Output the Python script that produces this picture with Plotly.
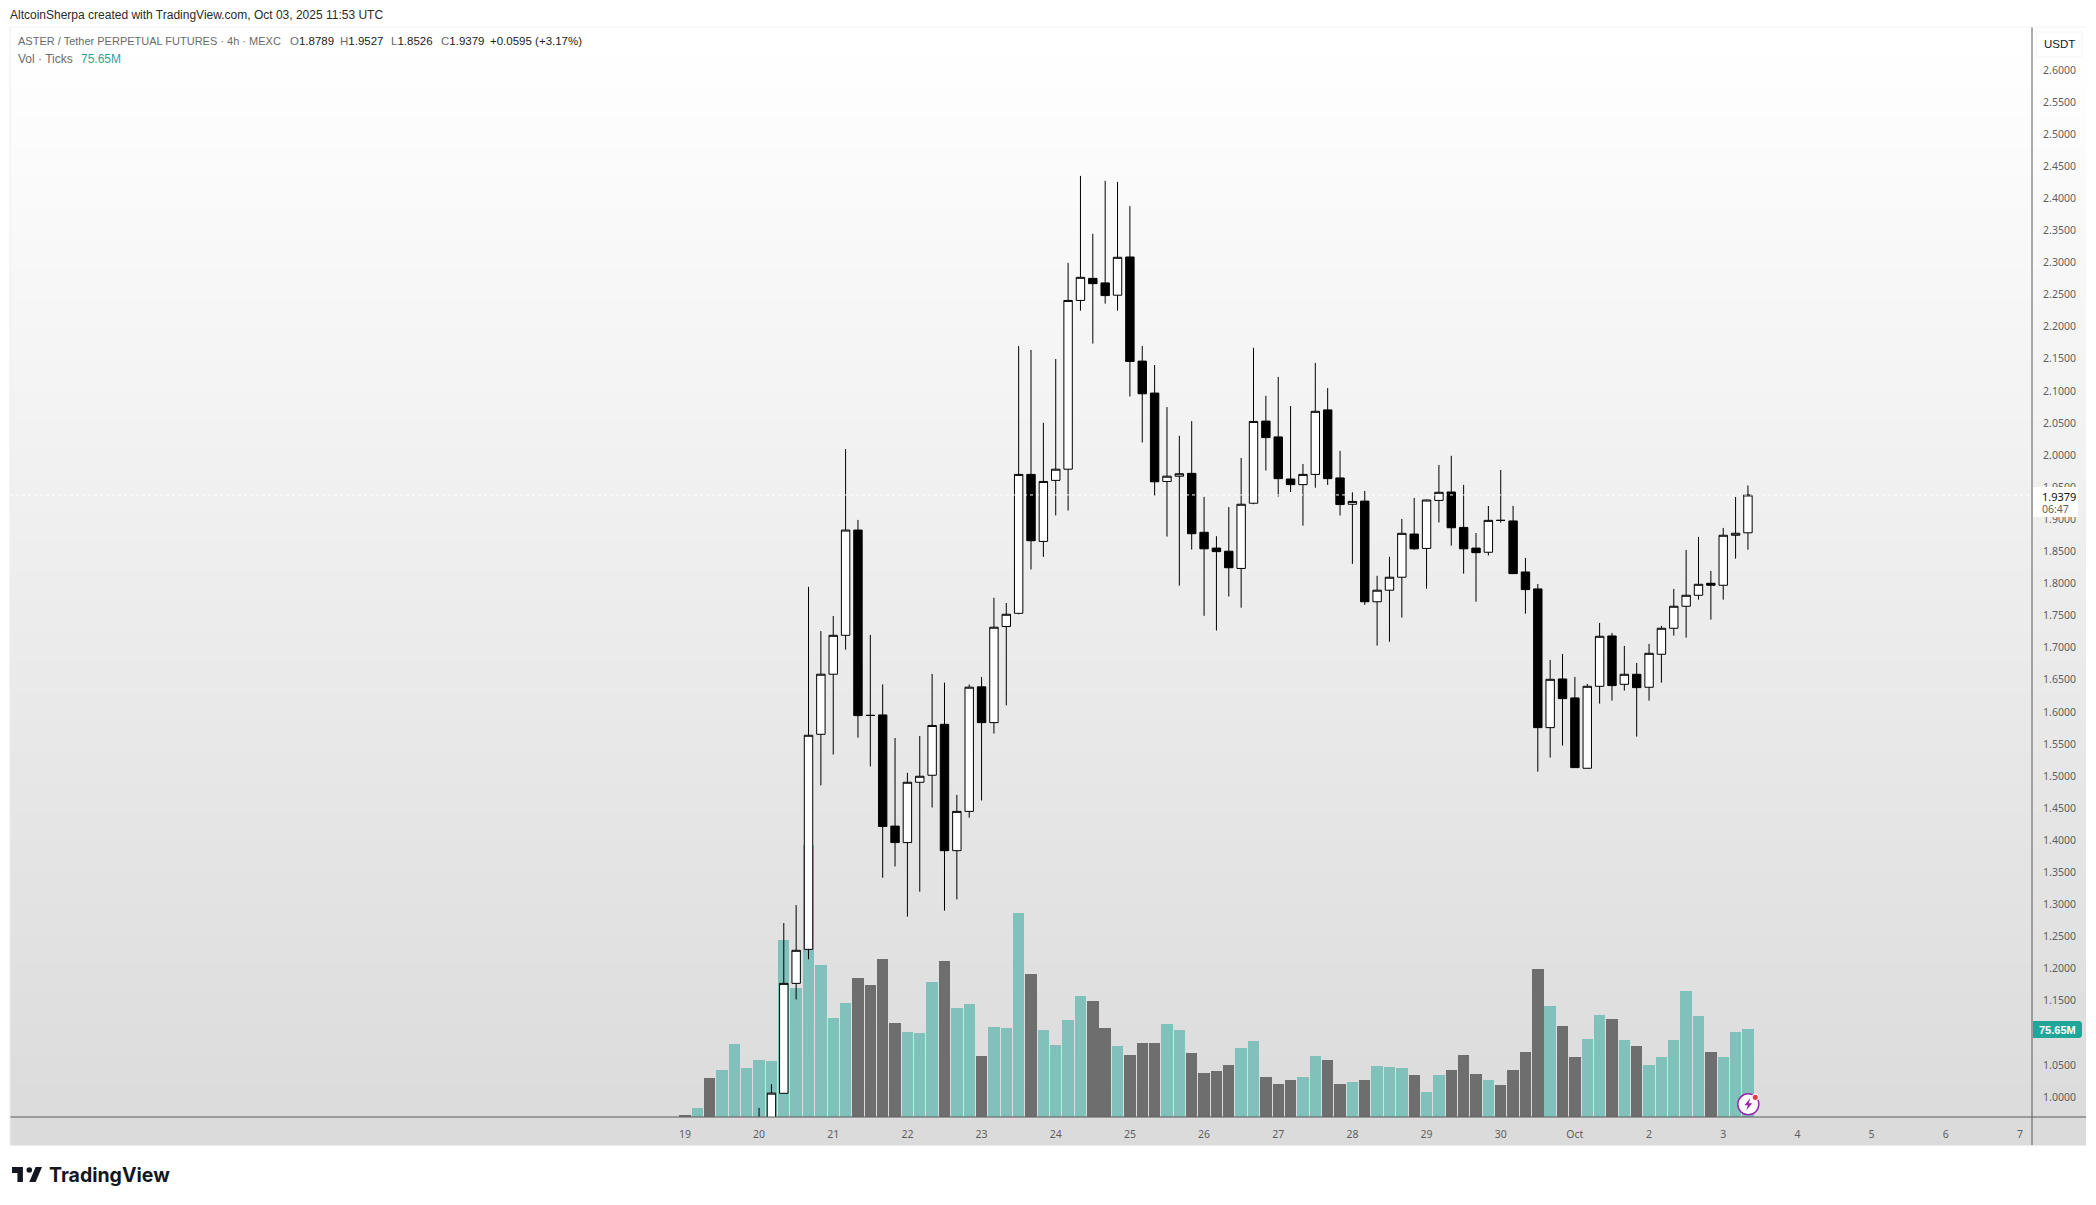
# plot.py
import plotly.graph_objects as go

# ---- data ----
# volume bars, one per 4h bar, first bar sits on the "19" tick (in millions)
volumes = [1.1, 8.0, 33.7, 40.5, 62.8, 42.3, 49.1, 48.2, 151.9, 110.8,
           233.5, 130.5, 85.1, 97.9, 119.3, 113.3, 135.6, 80.8, 73.1, 72.2,
           115.9, 133.9, 93.6, 97.1, 52.5, 77.4, 76.5, 175.3, 122.8, 74.8,
           62.0, 83.4, 103.9, 99.6, 76.5, 61.1, 53.4, 63.7, 63.7, 79.9,
           74.8, 55.1, 38.0, 39.7, 44.8, 59.4, 65.4, 34.5, 28.6, 32.0,
           34.5, 52.5, 49.1, 28.6, 30.3, 32.0, 44.0, 43.1, 42.3, 36.3,
           21.7, 36.3, 40.5, 53.4, 37.1, 32.0, 27.7, 40.5, 56.0, 127.0,
           95.4, 78.2, 51.7, 67.1, 87.6, 84.2, 66.2, 61.1, 44.8, 51.7,
           66.2, 108.2, 86.8, 56.0, 51.7, 73.1, 75.65]
vol_dirs = ["d", "u", "d", "u", "u", "u", "u", "u", "u", "u",
            "u", "u", "u", "u", "d", "d", "d", "d", "u", "u",
            "u", "d", "u", "u", "d", "u", "u", "u", "d", "u",
            "u", "u", "u", "d", "d", "u", "d", "d", "d", "u",
            "u", "d", "d", "d", "d", "u", "u", "d", "d", "d",
            "u", "u", "d", "d", "u", "d", "u", "u", "u", "d",
            "u", "u", "d", "d", "d", "u", "d", "d", "d", "d",
            "u", "d", "d", "u", "u", "d", "u", "d", "u", "u",
            "u", "u", "u", "d", "u", "u", "u"]

# candles start at bar 6, the earlier ones are below the visible price range
first_candle = 6
opens = [0.95, 0.96, 1.0057, 1.177, 1.230, 1.565, 1.6586, 1.7192, 1.8832, 1.5947,
         1.5952, 1.4220, 1.3963, 1.4903, 1.5012, 1.5805, 1.3837, 1.4449, 1.6389, 1.5832,
         1.7329, 1.7535, 1.9699, 1.8655, 1.9606, 1.9780, 2.2409, 2.2753, 2.2682, 2.2491,
         2.3086, 2.1464, 2.0966, 1.9589, 1.9671, 1.9715, 1.8797, 1.8551, 1.8502, 1.8234,
         1.9250, 2.0529, 2.0283, 1.9627, 1.9540, 1.9699, 2.0704, 1.9644, 1.9234, 1.9283,
         1.7715, 1.7895, 1.8097, 1.8770, 1.8546, 1.9294, 1.9425, 1.8873, 1.8551, 1.8486,
         1.8984, 1.8974, 1.8179, 1.7915, 1.5754, 1.6512, 1.6217, 1.5121, 1.6398, 1.7182,
         1.6429, 1.6585, 1.6383, 1.6897, 1.7302, 1.7645, 1.7816, 1.8003, 1.7972, 1.8751,
         1.8789]
highs = [0.983, 1.020, 1.271, 1.299, 1.7947, 1.7258, 1.7493, 2.0094, 1.8990, 1.7198,
         1.6427, 1.5592, 1.5050, 1.5624, 1.6591, 1.6455, 1.4706, 1.6427, 1.6542, 1.7777,
         1.7695, 2.1698, 2.1638, 2.0502, 2.1496, 2.2994, 2.4349, 2.3447, 2.4272, 2.4256,
         2.3879, 2.1698, 2.1403, 2.0748, 2.0300, 2.0529, 1.9349, 1.8737, 1.9190, 1.9955,
         2.1671, 2.0923, 2.1218, 2.0764, 1.9862, 2.1436, 2.1043, 2.0065, 1.9420, 1.9442,
         1.8119, 1.8414, 1.9005, 1.9332, 1.9305, 1.9846, 1.9988, 1.9535, 1.8786, 1.9207,
         1.9768, 1.9208, 1.8398, 1.7992, 1.6808, 1.6902, 1.6544, 1.6435, 1.7385, 1.7229,
         1.7027, 1.6762, 1.7058, 1.7338, 1.7915, 1.8522, 1.8725, 1.8195, 1.8865, 1.9348,
         1.9527]
lows = [0.94, 0.95, 1.005, 1.152, 1.2145, 1.4854, 1.5335, 1.6968, 1.5597, 1.5149,
        1.3417, 1.3591, 1.2810, 1.3198, 1.4509, 1.2903, 1.3078, 1.4351, 1.4619, 1.5662,
        1.6100, 1.752, 1.8218, 1.8414, 1.9059, 1.9136, 2.2250, 2.1737, 2.2360, 2.2250,
        2.0912, 2.0196, 1.9371, 1.8731, 1.7966, 1.8529, 1.7496, 1.7267, 1.7797, 1.7622,
        1.9235, 1.9759, 1.9354, 1.9425, 1.8901, 1.9491, 1.9535, 1.9059, 1.8305, 1.7666,
        1.7032, 1.7092, 1.7469, 1.8524, 1.7917, 1.8950, 1.8589, 1.8152, 1.7715, 1.8436,
        1.8948, 1.815, 1.7530, 1.5069, 1.5287, 1.5474, 1.513, 1.5115, 1.6128, 1.6175,
        1.6331, 1.5614, 1.6175, 1.6455, 1.7188, 1.7156, 1.7748, 1.7437, 1.7748, 1.8387,
        1.8526]
closes = [0.965, 1.006, 1.177, 1.2285, 1.5635, 1.6586, 1.7192, 1.8832, 1.5941, 1.5943,
          1.4214, 1.3963, 1.4903, 1.4996, 1.5788, 1.3837, 1.4449, 1.6384, 1.5832, 1.7318,
          1.7520, 1.9699, 1.8666, 1.9589, 1.9780, 2.2409, 2.2769, 2.2671, 2.2485, 2.3081,
          2.1458, 2.0955, 1.9584, 1.9671, 1.9709, 1.8775, 1.8540, 1.8496, 1.8245, 1.9234,
          2.0524, 2.0272, 1.9633, 1.9540, 1.9699, 2.0682, 1.9633, 1.9229, 1.9278, 1.7715,
          1.7895, 1.8097, 1.8781, 1.8540, 1.9300, 1.9420, 1.8868, 1.8540, 1.8480, 1.8983,
          1.8982, 1.8153, 1.7904, 1.5754, 1.6507, 1.6206, 1.5131, 1.6398, 1.7177, 1.6409,
          1.6585, 1.6377, 1.6912, 1.7302, 1.7645, 1.7816, 1.7987, 1.7972, 1.8751, 1.8782,
          1.9379]

day_labels = ["19", "20", "21", "22", "23", "24", "25", "26", "27", "28", "29", "30",
              "Oct", "2", "3", "4", "5", "6", "7"]
bars_per_day = 6
# 1.1000 sits under the volume tag in the picture, so it is not listed
price_ticks = [1.0, 1.05, 1.15, 1.2, 1.25, 1.3, 1.35, 1.4, 1.45, 1.5,
               1.55, 1.6, 1.65, 1.7, 1.75, 1.8, 1.85, 1.9, 1.95, 2.0,
               2.05, 2.1, 2.15, 2.2, 2.25, 2.3, 2.35, 2.4, 2.45, 2.5, 2.55, 2.6]
ohlc_keys = ["O", "H", "L", "C"]
ohlc_vals = ["1.8789", "1.9527", "1.8526", "1.9379"]
ohlc_xs = [288, 338, 389, 439]

# ---- layout constants (pixels of the 2096x1205 page) ----
W, H = 2096, 1205
PLOT_L, PLOT_R, PLOT_T, PLOT_B = 10, 2032, 27, 1117
PANEL_R, PANEL_B = 2086, 1145

TEAL_BAR = "#80c1bb"
GREY_BAR = "#6e6e6e"
AXIS_LINE = "#5a5a5a"
TICK_TEXT = "#5e5e5e"
FONT = "Liberation Sans"
TICK_FONT = "Noto Sans"


def px_x(x):
    return (x - PLOT_L) / (PLOT_R - PLOT_L)


def px_y(y):
    return (PLOT_B - y) / (PLOT_B - PLOT_T)


def rect(x0, y0, x1, y1, fill, line=None, layer="above"):
    return dict(type="rect", xref="paper", yref="paper",
                x0=px_x(x0), x1=px_x(x1), y0=px_y(y0), y1=px_y(y1),
                fillcolor=fill, line=dict(color=line, width=1) if line else dict(width=0),
                layer=layer)


def polygon(points, fill, layer="above"):
    path = "M " + " L ".join(f"{px_x(x):.6f} {px_y(y):.6f}" for x, y in points) + " Z"
    return dict(type="path", xref="paper", yref="paper", path=path,
                fillcolor=fill, line=dict(width=0), layer=layer)


def circle(cx, cy, r, fill, line=None, width=1, layer="above"):
    return dict(type="circle", xref="paper", yref="paper",
                x0=px_x(cx - r), x1=px_x(cx + r), y0=px_y(cy + r), y1=px_y(cy - r),
                fillcolor=fill, line=dict(color=line, width=width) if line else dict(width=0),
                layer=layer)


def label(x, y, text, size=12, color="#333333", anchor="left", family=FONT):
    return dict(xref="paper", yref="paper", x=px_x(x), y=px_y(y), text=text,
                showarrow=False, xanchor=anchor, yanchor="middle",
                font=dict(family=family, size=size, color=color))


# ---- traces ----
fig = go.Figure()

fig.add_trace(go.Bar(
    x=list(range(len(volumes))),
    y=volumes,
    width=0.92,
    marker=dict(color=[TEAL_BAR if d == "u" else GREY_BAR for d in vol_dirs], line=dict(width=0)),
    yaxis="y",
    hoverinfo="skip",
))

fig.add_trace(go.Candlestick(
    x=list(range(first_candle, first_candle + len(opens))),
    open=opens, high=highs, low=lows, close=closes,
    increasing=dict(fillcolor="#ffffff", line=dict(color="#000000", width=1)),
    decreasing=dict(fillcolor="#000000", line=dict(color="#000000", width=1)),
    whiskerwidth=0,
    yaxis="y2",
))

# ---- background gradient as one band per grey level ----
shapes = []
TOP_GREY, BOTTOM_GREY = 255, 219
levels = TOP_GREY - BOTTOM_GREY + 1
band = (PANEL_B - PLOT_T) / levels
for n in range(levels):
    g = TOP_GREY - n
    shapes.append(rect(PLOT_L, PLOT_T + n * band, PANEL_R, PLOT_T + (n + 1) * band + 0.5,
                       f"rgb({g},{g},{g})", layer="below"))

# panel lines
shapes.append(dict(type="line", xref="paper", yref="paper", x0=px_x(PLOT_L), x1=px_x(PANEL_R),
                   y0=0, y1=0, line=dict(color=AXIS_LINE, width=1), layer="above"))
shapes.append(dict(type="line", xref="paper", yref="paper", x0=1, x1=1,
                   y0=px_y(PANEL_B), y1=1, line=dict(color=AXIS_LINE, width=1), layer="above"))
shapes.append(dict(type="line", xref="paper", yref="paper", x0=0, x1=0,
                   y0=px_y(PANEL_B), y1=1, line=dict(color="#ececec", width=1), layer="above"))
shapes.append(dict(type="line", xref="paper", yref="paper", x0=0, x1=px_x(PANEL_R),
                   y0=1, y1=1, line=dict(color="#f2f2f2", width=1), layer="above"))

# dotted last price line
shapes.append(dict(type="line", xref="paper", yref="y2", x0=0, x1=1,
                   y0=closes[-1], y1=closes[-1],
                   line=dict(color="#ffffff", width=1, dash="dot"), layer="above"))

# price axis boxes
shapes.append(rect(2033, 487, 2078, 517, "#ffffff"))
shapes.append(rect(2036, 32, 2082, 57, "#ffffff", line="#f3f3f3"))
shapes.append(polygon([(2033, 1021), (2080, 1021), (2082, 1023), (2082, 1036),
                       (2080, 1038), (2033, 1038)], "#22a699"))

# lightning badge on the last bar
BX, BY = 1748.3, 1104.3
shapes.append(circle(BX, BY, 10.5, "#ffffff", line="#9c27b0", width=1.5))
shapes.append(polygon([(BX + 2, BY - 6), (BX - 4, BY + 1), (BX - 0.5, BY + 1),
                       (BX - 2, BY + 6), (BX + 4, BY - 1), (BX + 0.5, BY - 1)], "#9c27b0"))
shapes.append(circle(BX + 7, BY - 7, 3.6, "#ffffff"))
shapes.append(circle(BX + 7, BY - 7, 2.6, "#f23645"))

# TradingView logo, 36x28 icon drawn in the corner
LOGO_X, LOGO_Y = 12, 1167


def logo_pt(vx, vy):
    return LOGO_X + (vx - 2) * 30 / 33, LOGO_Y + (vy - 6)


shapes.append(polygon([logo_pt(*p) for p in [(14, 6), (2, 6), (2, 12), (8, 12), (8, 21), (14, 21)]], "#131722"))
shapes.append(polygon([logo_pt(*p) for p in [(28, 21), (21, 21), (28, 6), (35, 6)]], "#131722"))
dot_x, dot_y = logo_pt(21, 9)
shapes.append(circle(dot_x, dot_y, 2.8, "#131722"))

# ---- texts ----
GREY_T = "#6a6a6a"
DARK_T = "#222222"
annotations = [
    label(8, 15, "AltcoinSherpa created with TradingView.com, Oct 03, 2025 11:53 UTC", size=12, color="#2a2a2a"),
    label(16, 41, "ASTER / Tether PERPETUAL FUTURES · 4h · MEXC", size=11, color=GREY_T),
    label(488, 41, "+0.0595 (+3.17%)", size=11.5, color=DARK_T),
    label(16, 59, "Vol · Ticks", size=12, color=GREY_T),
    label(79, 59, "75.65M", size=12, color="#26a69a"),
    label(2059, 44.5, "USDT", size=11.5, color="#131722", anchor="center"),
    label(2040, 496, "1.9379", size=11, color="#111111", family=TICK_FONT),
    label(2040, 509, "06:47", size=10.5, color=TICK_TEXT, family=TICK_FONT),
    label(2057, 1030, "<b>75.65M</b>", size=11, color="#ffffff", anchor="center"),
    label(47, 1175, "<b>TradingView</b>", size=19.5, color="#131722", family="Inter"),
]
for key, val, x in zip(ohlc_keys, ohlc_vals, ohlc_xs):
    annotations.append(label(x, 41, f'<span style="color:{GREY_T}">{key}</span>{val}', size=11.5, color=DARK_T))

# ---- axes ----
fig.update_layout(
    width=W,
    height=H,
    autosize=False,
    margin=dict(l=PLOT_L, r=W - PLOT_R, t=PLOT_T, b=H - PLOT_B, pad=0),
    paper_bgcolor="#ffffff",
    plot_bgcolor="rgba(0,0,0,0)",
    showlegend=False,
    boxgap=0.32,
    boxgroupgap=0,
    bargap=0,
    shapes=shapes,
    annotations=annotations,
    font=dict(family=FONT, size=11, color=TICK_TEXT),
    xaxis=dict(
        range=[-54.6, 108.98],
        rangeslider=dict(visible=False),
        showgrid=False, zeroline=False, showline=False,
        tickmode="array",
        tickvals=[n * bars_per_day for n in range(len(day_labels))],
        ticktext=day_labels,
        ticks="outside", ticklen=7, tickcolor="rgba(0,0,0,0)",
        tickfont=dict(family=TICK_FONT, size=10.5, color=TICK_TEXT),
    ),
    yaxis=dict(
        range=[0, 937],
        visible=False,
        showgrid=False, zeroline=False, fixedrange=True,
    ),
    yaxis2=dict(
        range=[0.9688, 2.6669],
        overlaying="y",
        side="right",
        showgrid=False, zeroline=False, showline=False,
        tickmode="array",
        tickvals=price_ticks,
        tickformat=".4f",
        ticks="outside", ticklen=8, tickcolor="rgba(0,0,0,0)",
        tickfont=dict(family=TICK_FONT, size=10.5, color=TICK_TEXT),
    ),
)

# the default page leaves an 8px body margin, drop it so the chart fills the window
fig.write_html("out.html", config=dict(displayModeBar=False),
               post_script="document.body.style.margin='0';")
